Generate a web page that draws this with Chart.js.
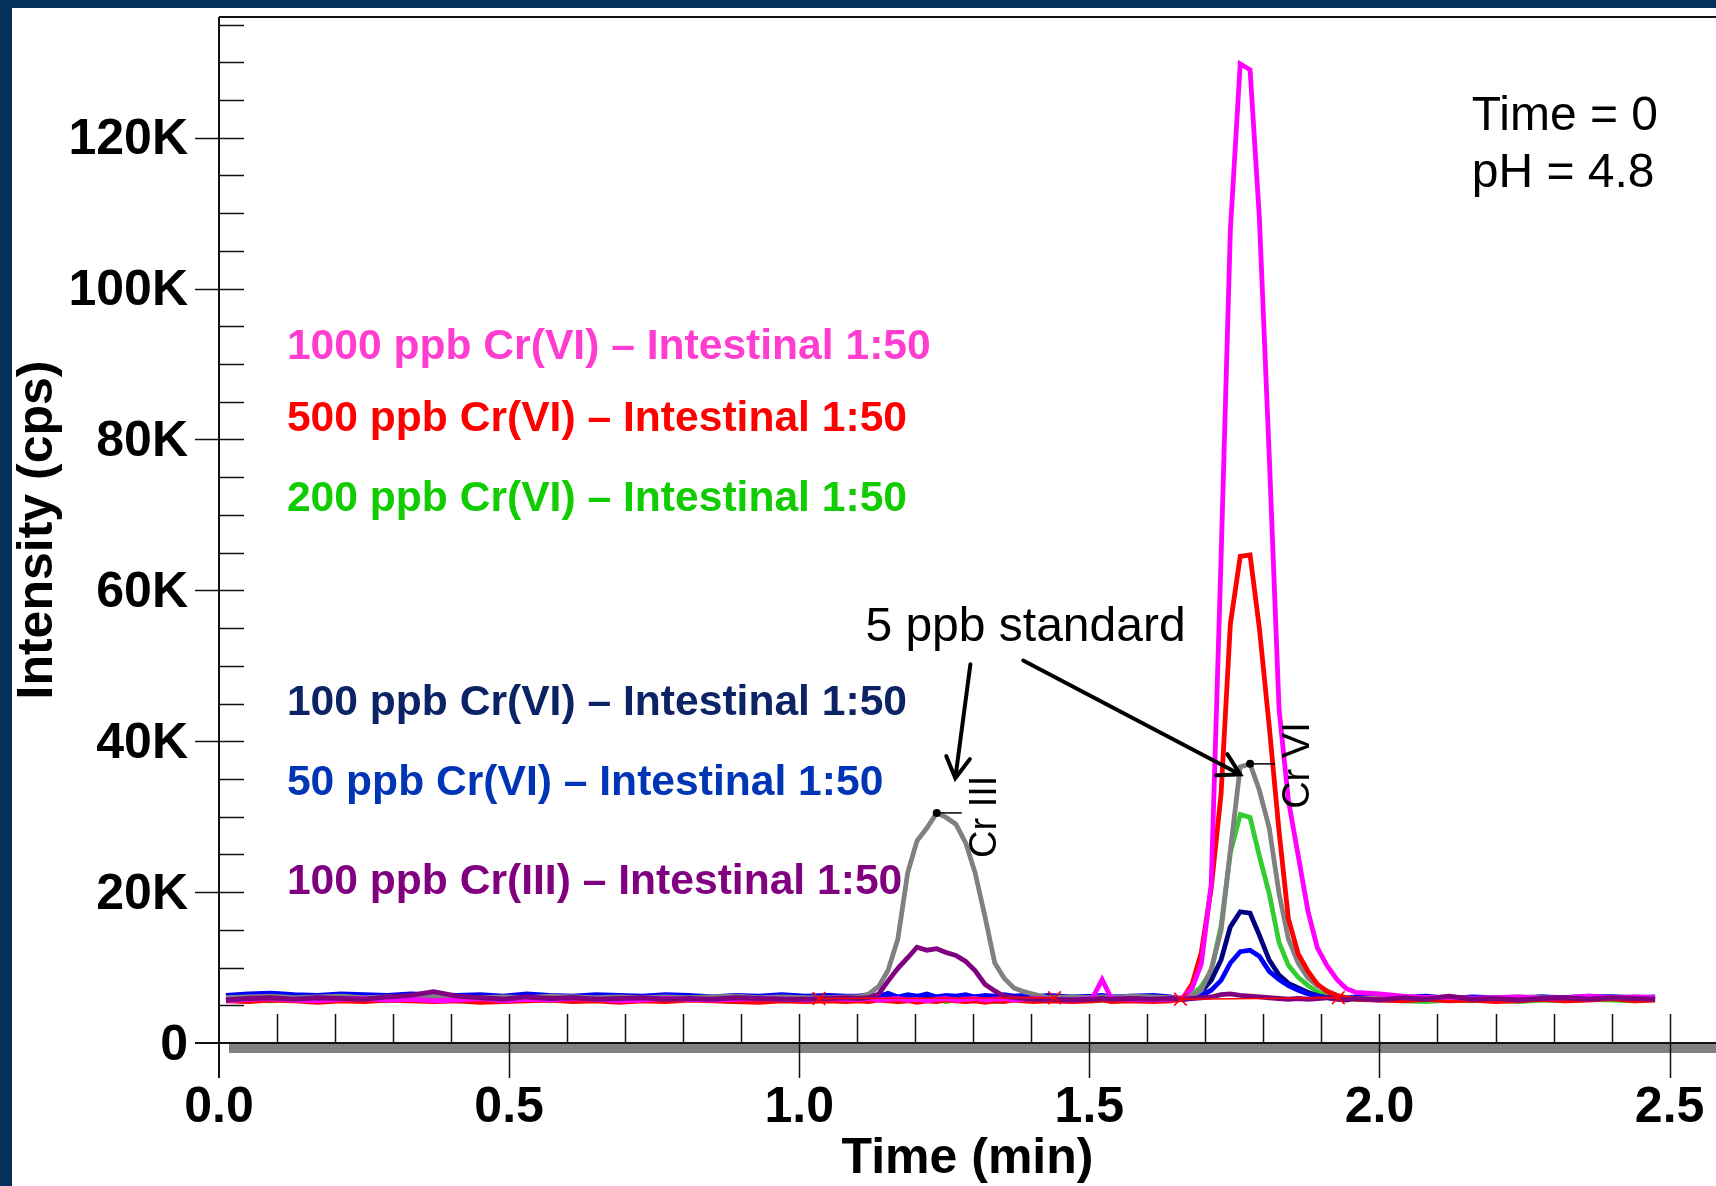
<!DOCTYPE html>
<html>
<head>
<meta charset="utf-8">
<title>Cr(III) / Cr(VI) – Intestinal 1:50</title>
<script src="https://cdn.jsdelivr.net/npm/chart.js@4.4.0/dist/chart.umd.min.js"></script>
<style>
  html, body { margin: 0; padding: 0; width: 1716px; height: 1186px; overflow: hidden; background: #04315a; }
  #chromatogram { position: absolute; left: 12px; top: 8px; background: #fff; }
</style>
</head>
<body>
<canvas id="chromatogram" width="1704" height="1178"></canvas>
<script>
// retention time (min): coarse on the baseline, ~1 s steps across the two peaks
const timeMin = [
  0.012, 0.05, 0.09, 0.13, 0.17, 0.21, 0.25, 0.29, 0.33, 0.37, 0.41, 0.45, 0.49, 0.53,
  0.57, 0.61, 0.65, 0.69, 0.73, 0.77, 0.81, 0.85, 0.89, 0.93, 0.97, 1.01, 1.05, 1.08,
  1.103, 1.120, 1.137, 1.153, 1.170, 1.187, 1.203, 1.220, 1.237, 1.253, 1.270, 1.287,
  1.303, 1.320, 1.337, 1.353, 1.370, 1.387, 1.403,
  1.43, 1.47, 1.505, 1.522, 1.538, 1.57, 1.61, 1.64,
  1.660, 1.677, 1.693, 1.710, 1.727, 1.743, 1.760, 1.777, 1.793, 1.810, 1.827, 1.843,
  1.860, 1.877, 1.893, 1.910, 1.927, 1.943, 1.960,
  2.00, 2.04, 2.08, 2.12, 2.16, 2.20, 2.24, 2.28, 2.32, 2.36, 2.40, 2.44, 2.475
];

// intensities in kcps, same length as timeMin
const std5ppb = [
  6.0, 6.1, 6.2, 6.0, 6.1, 6.2, 6.0, 6.1, 6.0, 6.2, 6.1, 6.0, 6.1, 6.0,
  6.2, 6.1, 6.0, 6.1, 6.0, 6.1, 6.0, 6.1, 6.2, 6.0, 6.1, 6.0, 6.0, 6.1,
  6.1, 6.5, 7.5, 9.6, 13.8, 22.6, 26.8, 28.5, 30.5, 29.9, 29.0, 26.5,
  22.6, 16.8, 10.6, 8.6, 7.3, 6.8, 6.5,
  6.0, 6.1, 6.0, 6.1, 6.0, 6.2, 6.1, 6.0,
  5.9, 6.2, 7.0, 9.8, 14.9, 25.5, 36.6, 37.0, 33.5, 28.5, 19.8, 13.8,
  10.6, 8.6, 7.6, 6.9, 6.3, 6.0, 5.9,
  6.0, 6.1, 6.0, 6.1, 5.9, 6.0, 6.1, 6.0, 5.9, 6.1, 6.0, 6.1, 6.0
];
const crVI1000 = [
  5.6, 5.8, 5.9, 5.7, 5.6, 5.8, 5.9, 5.7, 5.8, 5.6, 5.7, 5.9, 5.6, 5.8,
  5.7, 5.9, 5.8, 5.6, 5.7, 5.9, 5.8, 5.7, 5.8, 5.9, 5.8, 5.7, 5.9, 5.8,
  5.8, 5.9, 5.7, 5.8, 5.9, 5.7, 5.8, 5.6, 5.8, 5.9, 5.7, 5.8,
  5.9, 5.7, 5.8, 5.9, 5.7, 5.8, 5.9,
  5.8, 5.7, 5.9, 8.4, 5.9, 5.8, 5.7, 5.8,
  6.0, 7.2, 10.5, 21.0, 64.2, 107.7, 129.8, 129.0, 109.4, 77.9, 44.2, 32.2,
  24.8, 17.4, 12.6, 10.2, 8.4, 7.2, 6.7,
  6.5, 6.2, 6.0, 6.1, 5.9, 6.0, 6.1, 5.9, 6.0, 6.2, 6.0, 6.1, 6.0
];
const crVI500 = [
  5.6, 5.5, 5.7, 5.6, 5.4, 5.6, 5.5, 5.7, 5.6, 5.5, 5.6, 5.4, 5.5, 5.6,
  5.7, 5.5, 5.6, 5.4, 5.6, 5.5, 5.7, 5.6, 5.5, 5.4, 5.6, 5.5, 5.6, 5.5,
  5.6, 5.5, 5.7, 5.6, 5.5, 5.6, 5.4, 5.6, 5.5, 5.7, 5.6, 5.5,
  5.6, 5.4, 5.6, 5.5, 5.7, 5.6, 5.5,
  5.6, 5.5, 5.6, 5.7, 5.5, 5.6, 5.5, 5.6,
  5.8, 7.8, 12.0, 20.5, 33.0, 55.5, 64.5, 64.7, 55.0, 42.0, 28.0, 16.5,
  11.8, 9.5, 7.8, 6.8, 6.3, 6.0, 5.8,
  5.7, 5.6, 5.8, 5.6, 5.7, 5.5, 5.6, 5.8, 5.6, 5.7, 5.9, 5.6, 5.7
];
const crVI200 = [
  5.8, 5.7, 5.6, 5.8, 5.7, 5.9, 5.7, 5.6, 5.8, 5.7, 5.6, 5.5, 5.7, 5.8,
  5.6, 5.7, 5.8, 5.5, 5.7, 5.6, 5.8, 5.7, 5.5, 5.7, 5.8, 5.6, 5.7, 5.8,
  5.7, 5.6, 5.8, 5.7, 5.5, 5.7, 5.8, 5.6, 5.7, 5.5, 5.7, 5.8,
  5.6, 5.7, 5.5, 5.6, 5.7, 5.8, 5.7,
  5.7, 5.8, 5.6, 5.7, 5.8, 5.7, 5.6, 5.8,
  5.8, 6.4, 7.5, 9.5, 15.5, 25.2, 30.3, 29.9, 24.8, 19.8, 13.3, 10.3,
  8.7, 7.6, 6.8, 6.3, 6.0, 5.9, 5.8,
  5.8, 5.6, 5.5, 5.7, 5.6, 5.8, 5.5, 5.7, 5.6, 5.8, 5.7, 5.6, 5.8
];
const crVI100 = [
  6.0, 6.1, 6.0, 6.2, 6.0, 6.1, 5.9, 6.0, 6.1, 5.9, 6.0, 6.2, 6.0, 5.9,
  6.1, 6.0, 6.1, 5.9, 6.0, 6.1, 6.0, 5.9, 6.1, 6.0, 6.2, 6.0, 5.9, 6.0,
  6.0, 6.1, 5.9, 6.2, 5.8, 6.1, 6.0, 5.9, 6.1, 6.0, 5.8, 6.0,
  6.1, 5.9, 6.0, 6.1, 5.9, 6.0, 6.1,
  6.0, 5.9, 6.1, 6.0, 5.9, 6.1, 6.0, 6.0,
  5.8, 6.0, 6.8, 8.3, 11.0, 15.4, 17.4, 17.2, 14.3, 11.0, 9.0, 7.9,
  7.3, 6.7, 6.3, 6.0, 5.9, 5.9, 6.0,
  6.0, 5.9, 6.1, 5.9, 6.0, 5.8, 6.0, 6.1, 5.9, 6.0, 6.1, 6.0, 6.0
];
const crVI50 = [
  6.3, 6.5, 6.6, 6.4, 6.3, 6.5, 6.4, 6.3, 6.5, 6.4, 6.3, 6.4, 6.2, 6.5,
  6.3, 6.2, 6.4, 6.3, 6.2, 6.4, 6.3, 6.1, 6.3, 6.2, 6.4, 6.2, 6.3, 6.2,
  6.2, 6.4, 6.2, 6.6, 6.1, 6.4, 6.2, 6.5, 6.1, 6.3, 6.2, 6.4,
  6.1, 6.3, 6.2, 6.4, 6.2, 6.3, 6.1,
  6.3, 6.1, 6.2, 6.3, 6.1, 6.2, 6.3, 6.1,
  5.8, 5.9, 6.3, 7.0, 8.3, 10.6, 12.1, 12.3, 11.5, 9.5, 8.4, 7.6,
  7.0, 6.5, 6.2, 6.0, 5.9, 6.0, 6.1,
  6.1, 6.0, 6.2, 5.9, 6.1, 6.0, 5.9, 6.1, 6.0, 6.2, 6.1, 6.0, 6.1
];
const crIII100 = [
  5.7, 5.9, 6.0, 5.8, 6.0, 5.9, 5.8, 6.1, 6.3, 6.8, 6.2, 6.0, 5.8, 6.1,
  5.9, 6.0, 5.8, 5.9, 6.0, 5.8, 5.9, 5.8, 6.0, 5.9, 5.8, 5.8, 5.9, 6.0,
  5.9, 6.0, 6.5, 8.2, 9.9, 11.3, 12.7, 12.3, 12.5, 12.0, 11.6, 10.8,
  9.6, 7.8, 6.9, 6.2, 6.0, 5.9, 5.8,
  5.8, 5.7, 5.8, 5.9, 5.8, 5.9, 5.8, 5.9,
  5.8, 5.9, 6.0, 6.1, 6.4, 6.5, 6.3, 6.2, 6.1, 6.0, 5.9, 5.8,
  5.9, 5.8, 5.9, 6.0, 5.8, 5.7, 5.9,
  5.7, 6.0, 5.8, 6.2, 5.8, 5.9, 5.7, 5.9, 6.0, 5.8, 6.0, 5.9, 5.8
];

// peak integration baselines (start / end marks)
const crIIIBaseTime = [1.034, 1.44];
const crIIIBaseLevel = [5.9, 6.0];
const crVIBaseTime = [1.657, 1.929];
const crVIBaseLevel = [5.8, 6.0];

// axes
const xTickValues = [0, 0.5, 1.0, 1.5, 2.0, 2.5];
const xTickLabels = ['0.0', '0.5', '1.0', '1.5', '2.0', '2.5'];
const yTickValues = [0, 20, 40, 60, 80, 100, 120];
const yTickLabels = ['0', '20K', '40K', '60K', '80K', '100K', '120K'];

// in-plot legend
const legendLabels = [
  '1000 ppb Cr(VI) – Intestinal 1:50',
  '500 ppb Cr(VI) – Intestinal 1:50',
  '200 ppb Cr(VI) – Intestinal 1:50',
  '100 ppb Cr(VI) – Intestinal 1:50',
  '50 ppb Cr(VI) – Intestinal 1:50',
  '100 ppb Cr(III) – Intestinal 1:50'
];
const legendColors = ['#ff3dd0', '#ff0000', '#11cc00', '#0c2466', '#0035b5', '#800080'];
const legendLevels = [92.2, 82.7, 72.1, 45.0, 34.4, 21.3];
const legendLeft = 0.117;

const fontFamily = "'Liberation Sans', Arial, sans-serif";

function points(values) {
  return values.map((v, i) => ({ x: timeMin[i], y: v }));
}
function pairs(ts, vs) {
  return ts.map((t, i) => ({ x: t, y: vs[i] }));
}
function trace(label, values, color) {
  return {
    label: label,
    data: points(values),
    borderColor: color,
    borderWidth: 4.8,
    pointRadius: 0,
    tension: 0,
    fill: false
  };
}
function integration(label, ts, vs) {
  return {
    label: label,
    data: pairs(ts, vs),
    borderColor: '#ff0000',
    borderWidth: 1.5,
    pointStyle: 'crossRot',
    pointRadius: 9,
    pointBorderWidth: 1.5,
    pointBorderColor: '#ff0000',
    tension: 0,
    fill: false
  };
}
function apexIndex(values, from, to) {
  let best = -1;
  for (let i = 0; i < values.length; i++) {
    if (timeMin[i] < from || timeMin[i] > to) continue;
    if (best < 0 || values[i] > values[best]) best = i;
  }
  return best;
}

// axis lines and tick marks in the style of the instrument software
const chromAxes = {
  id: 'chromAxes',
  beforeDatasetsDraw(chart) {
    const { ctx, chartArea: area, scales: { x, y } } = chart;
    const y0 = y.getPixelForValue(0);
    ctx.save();
    ctx.fillStyle = '#808080';
    ctx.fillRect(area.left + 10, y0 + 1, chart.width - area.left - 10, 9);

    ctx.strokeStyle = '#111';
    ctx.lineWidth = 1.5;
    ctx.beginPath();
    for (let v = 5; v <= 135; v += 5) {
      const p = Math.round(y.getPixelForValue(v)) + 0.5;
      const major = yTickValues.includes(v);
      ctx.moveTo(major ? area.left - 24 : area.left, p);
      ctx.lineTo(area.left + 25, p);
    }
    for (let k = 1; k <= 25; k++) {
      const t = k / 10;
      const p = Math.round(x.getPixelForValue(t)) + 0.5;
      const major = k % 5 === 0;
      ctx.moveTo(p, y0 - 29);
      ctx.lineTo(p, major ? y0 + 35 : y0);
    }
    ctx.stroke();

    ctx.lineWidth = 2;
    ctx.beginPath();
    ctx.moveTo(area.left, area.top);
    ctx.lineTo(chart.width, area.top);
    ctx.moveTo(area.left - 24, y0);
    ctx.lineTo(chart.width, y0);
    ctx.moveTo(area.left, area.top);
    ctx.lineTo(area.left, y0 + 35);
    ctx.stroke();
    ctx.restore();
  }
};

function arrow(ctx, x1, y1, x2, y2) {
  const a = Math.atan2(y2 - y1, x2 - x1);
  const len = 24, spread = 0.52;
  ctx.beginPath();
  ctx.moveTo(x1, y1);
  ctx.lineTo(x2, y2);
  ctx.moveTo(x2 - len * Math.cos(a - spread), y2 - len * Math.sin(a - spread));
  ctx.lineTo(x2, y2);
  ctx.lineTo(x2 - len * Math.cos(a + spread), y2 - len * Math.sin(a + spread));
  ctx.stroke();
}

const annotations = {
  id: 'annotations',
  afterDatasetsDraw(chart) {
    const { ctx, scales: { x, y } } = chart;
    const px = t => x.getPixelForValue(t);
    const py = v => y.getPixelForValue(v);
    ctx.save();

    ctx.textAlign = 'left';
    ctx.textBaseline = 'middle';
    ctx.font = 'bold 42.6px ' + fontFamily;
    legendLabels.forEach((txt, i) => {
      ctx.fillStyle = legendColors[i];
      ctx.fillText(txt, px(legendLeft), py(legendLevels[i]));
    });

    ctx.fillStyle = '#000';
    ctx.textBaseline = 'alphabetic';
    ctx.font = '48px ' + fontFamily;
    ctx.fillText('Time = 0', px(2.159), py(121.0));
    ctx.fillText('pH = 4.8', px(2.159), py(113.5));
    ctx.fillText('5 ppb standard', px(1.114), py(53.3));

    ctx.strokeStyle = '#000';
    ctx.lineWidth = 4;
    ctx.lineCap = 'round';
    arrow(ctx, px(1.295), py(50.2), px(1.269), py(35.1));
    arrow(ctx, px(1.386), py(50.7), px(1.760), py(35.6));

    // apex marks on the 5 ppb standard
    const peaks = [
      { name: 'Cr III', idx: apexIndex(std5ppb, 1.1, 1.4) },
      { name: 'Cr VI', idx: apexIndex(std5ppb, 1.65, 1.95) }
    ];
    ctx.lineWidth = 1.5;
    ctx.lineCap = 'butt';
    ctx.font = '38px ' + fontFamily;
    peaks.forEach(pk => {
      const dx = px(timeMin[pk.idx]);
      const dy = py(std5ppb[pk.idx]);
      ctx.beginPath();
      ctx.arc(dx, dy, 4, 0, Math.PI * 2);
      ctx.fill();
      ctx.beginPath();
      ctx.moveTo(dx, dy);
      ctx.lineTo(dx + 25, dy);
      ctx.stroke();
      ctx.save();
      ctx.translate(dx + 59, dy + 45);
      ctx.rotate(-Math.PI / 2);
      ctx.fillText(pk.name, 0, 0);
      ctx.restore();
    });
    ctx.restore();
  }
};

const boldFont = { family: fontFamily, size: 50, weight: 'bold' };

new Chart(document.getElementById('chromatogram'), {
  type: 'line',
  data: {
    datasets: [
      integration('Cr III baseline', crIIIBaseTime, crIIIBaseLevel),
      integration('Cr VI baseline', crVIBaseTime, crVIBaseLevel),
      trace('100 ppb Cr(III)', crIII100, '#800080'),
      trace('1000 ppb Cr(VI)', crVI1000, '#ff00ff'),
      trace('500 ppb Cr(VI)', crVI500, '#ff0000'),
      trace('5 ppb standard', std5ppb, '#808080'),
      trace('50 ppb Cr(VI)', crVI50, '#0000ff'),
      trace('100 ppb Cr(VI)', crVI100, '#000080'),
      trace('200 ppb Cr(VI)', crVI200, '#33cc33')
    ]
  },
  options: {
    responsive: false,
    animation: false,
    devicePixelRatio: 1,
    layout: { autoPadding: false, padding: { top: 9, left: 0, right: 0, bottom: 0 } },
    plugins: {
      legend: { display: false },
      tooltip: { enabled: false }
    },
    scales: {
      x: {
        type: 'linear',
        min: 0,
        max: 2.58,
        grid: { display: false, drawTicks: false },
        border: { display: false },
        afterBuildTicks: s => { s.ticks = xTickValues.map(v => ({ value: v })); },
        afterFit: s => { s.height = 143; s.paddingLeft = 0; s.paddingRight = 0; },
        ticks: {
          autoSkip: false,
          maxRotation: 0,
          padding: 35,
          color: '#000',
          font: boldFont,
          callback: (v, i) => xTickLabels[i]
        },
        title: {
          display: true,
          text: 'Time (min)',
          color: '#000',
          font: boldFont,
          padding: { top: 0, bottom: -3 }
        }
      },
      y: {
        type: 'linear',
        min: 0,
        max: 136,
        grid: { display: false, drawTicks: false },
        border: { display: false },
        afterBuildTicks: s => { s.ticks = yTickValues.map(v => ({ value: v })); },
        afterFit: s => { s.width = 207; s.paddingTop = 0; s.paddingBottom = 0; },
        ticks: {
          autoSkip: false,
          padding: 31,
          labelOffset: 3,
          color: '#000',
          font: boldFont,
          callback: (v, i) => yTickLabels[i]
        },
        title: {
          display: true,
          text: 'Intensity (cps)',
          color: '#000',
          font: boldFont,
          padding: { top: -4, bottom: 0 }
        }
      }
    }
  },
  plugins: [chromAxes, annotations]
});
</script>
</body>
</html>
